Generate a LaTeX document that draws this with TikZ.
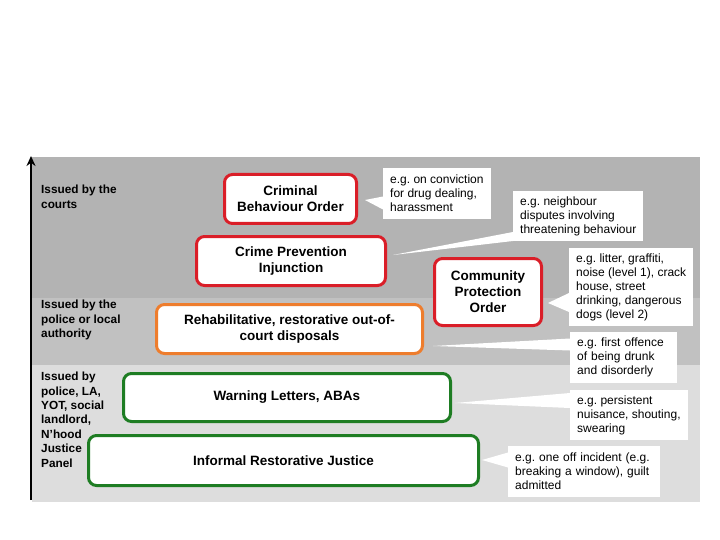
\documentclass[tikz,border=0pt]{standalone}
\usepackage{fontspec}
\setmainfont{Liberation Sans}
\usetikzlibrary{arrows.meta}
\frenchspacing
\definecolor{bandtop}{RGB}{179,179,179}
\definecolor{bandmid}{RGB}{193,193,193}
\definecolor{bandlow}{RGB}{221,221,221}
\definecolor{ordred}{RGB}{218,30,40}
\definecolor{dispor}{RGB}{238,125,45}
\definecolor{infgreen}{RGB}{30,125,35}

\begin{document}
\begin{tikzpicture}[x=1pt, y=-1pt,
  box/.style={rectangle, rounded corners=8pt, line width=3pt, fill=white,
              align=center, inner sep=2pt,
              font=\fontsize{13.5}{16}\selectfont\bfseries},
  courtbox/.style={box, draw=ordred},
  policebox/.style={box, draw=dispor},
  localbox/.style={box, draw=infgreen},
  note/.style={rectangle, fill=white, anchor=west, inner xsep=7pt, inner ysep=3pt,
               align=left, font=\fontsize{12}{14}\selectfont},
  tierlabel/.style={anchor=north west, inner sep=0pt, align=left,
                    font=\fontsize{11.8}{14.4}\selectfont\bfseries},
  tail/.style={fill=white},
  axis/.style={-{Stealth[length=10pt, width=9pt]}, line width=2.6pt}
]
\useasboundingbox (0,0) rectangle (720,540);

\fill[bandtop] (32,157) rectangle (700,298);
\fill[bandmid] (32,298) rectangle (700,365);
\fill[bandlow] (32,365) rectangle (700,502);

\coordinate (axbot) at (31,500);
\coordinate (axtop) at (31,156);
\draw[axis] (axbot) -- (axtop);

\node[tierlabel] (courts) at (41,185) {Issued by the\\courts};
\node[tierlabel] (police) at (41,300) {Issued by the\\police or local\\authority};
\node[tierlabel] (local) at (41,372) {Issued by\\police, LA,\\YOT, social\\landlord,\\N'hood\\Justice\\Panel};

\node[courtbox, minimum width=132, minimum height=49] (cbo) at (290.5,199) {Criminal\\Behaviour Order};
\node[courtbox, minimum width=189, minimum height=49] (cpi) at (291,261) {Crime Prevention\\Injunction};
\node[courtbox, minimum width=107, minimum height=67] (cpo) at (488,292) {Community\\Protection\\Order};
\node[policebox, minimum width=266, minimum height=49] (rehab) at (289.5,329) {Rehabilitative, restorative out-of-\\court disposals};
\node[localbox, minimum width=327, minimum height=48] (warn) at (287,397.5) {Warning Letters, ABAs};
\node[localbox, minimum width=390, minimum height=50] (irj) at (283.5,460.5) {Informal Restorative Justice};

\node[note, minimum height=51] (conv) at (383,193.5) {e.g. on conviction\\for drug dealing,\\harassment};
\node[note, minimum height=50] (neigh) at (513,216) {e.g. neighbour\\disputes involving\\threatening behaviour};
\node[note, minimum height=78] (litter) at (569,287) {e.g. litter, graffiti,\\noise (level 1), crack\\house, street\\drinking, dangerous\\dogs (level 2)};
\node[note, text width=93, minimum height=51] (drunk) at (570,357.5) {e.g. first offence\\of being drunk\\and disorderly};
\node[note, minimum height=50] (persist) at (570,415) {e.g. persistent\\nuisance, shouting,\\swearing};
\node[note, text width=138, minimum height=51] (oneoff) at (508,471.5) {e.g. one off incident (e.g.\\breaking a window), guilt\\admitted};

\coordinate (convtip) at (365,200);
\coordinate (neightip) at (393,255);
\coordinate (littertip) at (548,303);
\coordinate (drunktip) at (433,346);
\coordinate (persisttip) at (455,403);
\coordinate (oneofftip) at (482,460);
\fill[tail] ([yshift=-3pt]conv.west) -- (convtip) -- ([yshift=-16pt]conv.west) -- cycle;
\fill[tail] ([yshift=-16pt]neigh.west) -- (neightip) -- ([yshift=-25pt]neigh.west) -- cycle;
\fill[tail] ([yshift=-6pt]litter.west) -- (littertip) -- ([yshift=-25pt]litter.west) -- cycle;
\fill[tail] ([yshift=19pt]drunk.west) -- (drunktip) -- ([yshift=7pt]drunk.west) -- cycle;
\fill[tail] ([yshift=22pt]persist.west) -- (persisttip) -- ([yshift=7pt]persist.west) -- cycle;
\fill[tail] ([yshift=19pt]oneoff.west) -- (oneofftip) -- ([yshift=4pt]oneoff.west) -- cycle;
\end{tikzpicture}
\end{document}
